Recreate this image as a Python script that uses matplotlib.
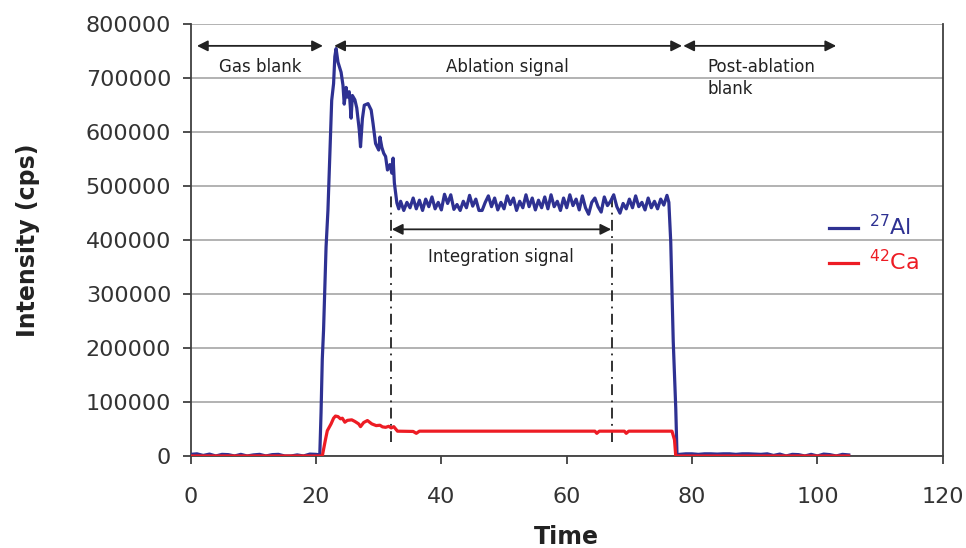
import matplotlib
matplotlib.use("Agg")
import matplotlib.pyplot as plt

plt.rcParams['font.family'] = ['DejaVu Sans']

# 27Al signal (time in s, intensity in cps)
al_time = [0, 1, 2, 3, 4, 5, 6, 7, 8, 9, 10, 11, 12, 13, 14, 15, 16, 17, 18, 19, 20, 20.6,
           20.8, 21.0, 21.2, 21.6, 21.9, 22.2, 22.5, 22.8, 23.0, 23.2,
           23.5, 24.0, 24.3, 24.5, 24.8, 25.0, 25.3, 25.6, 25.8, 26.2, 26.5, 26.9, 27.1,
           27.4, 27.7, 28.3, 28.8, 29.1, 29.5, 30.0, 30.2, 30.5, 30.8, 31.1, 31.4, 31.8,
           32.1, 32.3, 32.5, 32.9, 33.2,
           33.5, 34.0, 34.5, 35.0, 35.5, 36.0, 36.5, 37.0, 37.5, 38.0, 38.5, 39.0, 39.5,
           40.0, 40.5, 41.0, 41.5, 42.0, 42.5, 43.0, 43.5, 44.0, 44.5, 45.0, 45.5, 46.0,
           46.5, 47.0, 47.5, 48.0, 48.5, 49.0, 49.5, 50.0, 50.5, 51.0, 51.5, 52.0, 52.5,
           53.0, 53.5, 54.0, 54.5, 55.0, 55.5, 56.0, 56.5, 57.0, 57.5, 58.0, 58.5, 59.0,
           59.5, 60.0, 60.5, 61.0, 61.5, 62.0, 62.5, 63.0, 63.5, 64.0, 64.5, 65.0, 65.5,
           66.0, 66.5, 67.0, 67.5, 68.0, 68.5, 69.0, 69.5, 70.0, 70.5, 71.0, 71.5, 72.0,
           72.5, 73.0, 73.5, 74.0, 74.5, 75.0, 75.5, 76.0,
           76.3, 76.6, 77.0, 77.4, 77.6,
           78, 79, 80, 81, 82, 83, 84, 85, 86, 87, 88, 89, 90, 91, 92, 93, 94, 95, 96,
           97, 98, 99, 100, 101, 102, 103, 104, 105]
al_cps = [3000, 4000, 1000, 3500, 0, 3000, 2500, 0, 3000, 0, 2000, 3000, 0, 2500, 3000, 0,
          0, 2000, 0, 3500, 3000, 2000,
          80000, 180000, 233000, 387000, 455000, 560000, 659000, 690000, 740000, 755000,
          730000, 711000, 687000, 652000, 683000, 665000, 675000, 626000, 668000, 660000,
          645000, 604000, 573000, 625000, 650000, 653000, 641000, 616000, 579000, 567000,
          591000, 572000, 561000, 555000, 530000, 540000, 524000, 552000, 506000, 469000,
          458000,
          472000, 455000, 470000, 460000, 478000, 458000, 474000, 455000, 476000, 462000,
          480000, 458000, 470000, 456000, 485000, 468000, 484000, 457000, 466000, 455000,
          472000, 460000, 483000, 463000, 476000, 455000, 455000, 470000, 482000, 462000,
          478000, 456000, 470000, 458000, 482000, 466000, 478000, 455000, 472000, 460000,
          484000, 462000, 478000, 456000, 474000, 460000, 480000, 458000, 484000, 462000,
          472000, 455000, 478000, 460000, 484000, 464000, 476000, 456000, 482000, 460000,
          448000, 470000, 478000, 462000, 452000, 480000, 464000, 472000, 484000, 462000,
          450000, 468000, 458000, 476000, 460000, 482000, 462000, 470000, 456000, 478000,
          460000, 472000, 458000, 476000, 465000, 483000,
          470000, 397000, 212000, 89000, 2000,
          3000, 4000, 4000, 3000, 4000, 4000, 3500, 4000, 4000, 3000, 4000, 4000, 3500,
          3000, 4000, 1000, 3500, 0, 3000, 2500, 0, 3000, 0, 3500, 2500, 0, 3000, 2000]

# 42Ca signal
ca_time = [0, 21.0, 21.5, 21.8, 22.4, 22.8, 23.1, 23.5, 23.9, 24.2, 24.6, 25.0, 25.7,
           26.2, 26.8, 27.1, 27.6, 28.2, 28.9, 29.6, 30.2, 30.6, 31.1, 31.6, 32.0, 32.4,
           33.0, 35.5, 36.0, 36.5, 64.5, 64.8, 65.2, 69.2, 69.5, 69.9, 76.8, 77.2, 77.4,
           105]
ca_cps = [0, 0, 30000, 46800, 59500, 70000, 74000, 73000, 68900, 70000, 62600, 66000,
          67000, 64000, 59500, 54400, 62000, 65700, 59500, 56300, 57000, 54000, 53100,
          55000, 52000, 54400, 46000, 45500, 42000, 46000, 46000, 42000, 46000, 46000,
          42000, 46000, 46000, 30000, 0, 0]

# annotation spans
gas_blank = (1.0, 21.1)
ablation = (22.9, 78.4)
post_ablation = (78.6, 103.0)
integration = (32.1, 67.1)
integ_lines = [31.9, 67.3]

blue = '#2e3192'
red = '#ed1c24'

fig, ax = plt.subplots(figsize=(9.66, 5.48), dpi=100)
fig.subplots_adjust(left=0.1974, right=0.9759, top=0.9557, bottom=0.1679)

ax.plot(al_time, al_cps, color=blue, lw=2.3, label=r'$^{27}$Al', zorder=3,
        solid_joinstyle='round')
ax.plot(ca_time, ca_cps, color=red, lw=2.3, label=r'$^{42}$Ca', zorder=4,
        solid_joinstyle='round')

# integration window
for x in integ_lines:
    ax.plot([x, x], [25000, 490000], color='#222222', lw=1.3, ls=(0, (6, 3, 1, 3)), zorder=2)

arrow = dict(arrowstyle='<|-|>', color='#222222', lw=1.3, mutation_scale=16,
             shrinkA=0, shrinkB=0)
for a, b in [gas_blank, ablation, post_ablation]:
    ax.annotate('', xy=(a, 760000), xytext=(b, 760000), arrowprops=arrow)
ax.annotate('', xy=(integration[0], 420000), xytext=(integration[1], 420000),
            arrowprops=arrow)

tkw = dict(fontsize=12, color='#222222', va='center')
ax.text(11.1, 720000, 'Gas blank', ha='center', **tkw)
ax.text(50.6, 720000, 'Ablation signal', ha='center', **tkw)
ax.text(82.4, 701000, 'Post-ablation\nblank', ha='left', linespacing=1.3, **tkw)
ax.text(49.5, 368000, 'Integration signal', ha='center', **tkw)

ax.set_xlim(0, 120)
ax.set_ylim(0, 800000)
ax.set_xticks(range(0, 121, 20))
ax.set_yticks(range(0, 800001, 100000))
ax.yaxis.grid(True, color='#a6a6a6', lw=1.2)
ax.set_axisbelow(True)

for s in ['left', 'bottom', 'right']:
    ax.spines[s].set_color('#404040')
    ax.spines[s].set_linewidth(1.3)
ax.spines['top'].set_visible(False)
ax.tick_params(axis='both', direction='out', length=6, width=1.3, color='#404040',
               labelsize=16, labelcolor='#333333')
ax.tick_params(axis='x', pad=16)
ax.tick_params(axis='y', pad=8)

ax.set_xlabel('Time', fontsize=17, fontweight='bold', color='#222222', labelpad=13)
ax.set_ylabel('Intensity (cps)', fontsize=17, fontweight='bold', color='#222222',
              labelpad=33)

leg = ax.legend(loc='center left', bbox_to_anchor=(0.822, 0.49), frameon=False,
                handlelength=1.3, handletextpad=0.5, labelspacing=0.45, fontsize=16,
                labelcolor='linecolor')

plt.savefig('out.png', dpi=100)
